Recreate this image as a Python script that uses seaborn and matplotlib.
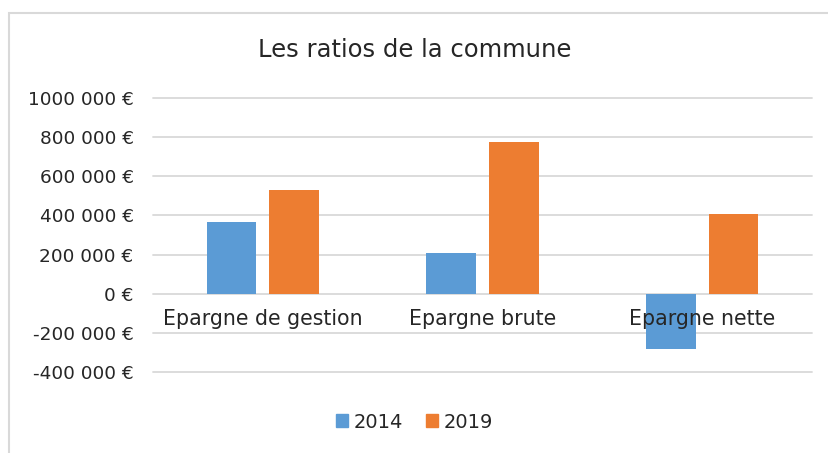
import numpy as np
import pandas as pd
import matplotlib
matplotlib.use('Agg')
import matplotlib.pyplot as plt
import seaborn as sns
from matplotlib.patches import Rectangle

# Data
categories = ['Epargne de gestion', 'Epargne brute', 'Epargne nette']
years = ['2014', '2019']
values_2014 = [368000, 207000, -285000]
values_2019 = [529000, 774000, 407000]
yticks = [-400000, -200000, 0, 200000, 400000, 600000, 800000, 1000000]
ytick_labels = ['-400 000 €', '-200 000 €', '0 €', '200 000 €', '400 000 €',
                '600 000 €', '800 000 €', '1000 000 €']
colors = ['#5B9BD5', '#ED7D31']

df = pd.DataFrame({
    'categorie': categories * 2,
    'annee': [years[0]] * 3 + [years[1]] * 3,
    'valeur': values_2014 + values_2019,
})

sns.set_style('white')
plt.rcParams['font.family'] = ['DejaVu Sans']
text_color = '#262626'

fig = plt.figure(figsize=(8.29, 4.53), dpi=100)
ax = fig.add_axes([153 / 829, 1 - 372 / 453, (812 - 153) / 829, (372 - 98) / 453])

sns.barplot(data=df, x='categorie', y='valeur', hue='annee', palette=colors,
            width=0.57, gap=0.21, saturation=1, linewidth=0, ax=ax, legend=False)

ax.set_ylim(-400000, 1000000)
ax.set_xlim(-0.5, 2.5)
ax.set_yticks(yticks)
ax.set_yticklabels(ytick_labels, fontsize=13.3, color=text_color)
ax.tick_params(axis='y', length=0, pad=14)
ax.grid(axis='y', color='#d9d9d9', linewidth=1.3)
for gl in ax.get_ygridlines():
    gl.set_clip_on(False)
ax.set_axisbelow(True)
ax.set_xticks([])
ax.set_xlabel('')
ax.set_ylabel('')
for s in ax.spines.values():
    s.set_visible(False)

# category labels sit just under the zero line, like Excel
for i, c in enumerate(categories):
    ax.annotate(c, xy=(i, 0), xytext=(0, -11), textcoords='offset points',
                ha='center', va='top', fontsize=14.8, color=text_color, zorder=5)

fig.text(0.5, 1 - 50 / 453, 'Les ratios de la commune', ha='center', va='center',
         fontsize=17.5, color=text_color)

# legend
handles = [Rectangle((0, 0), 1, 1, color=c) for c in colors]
fig.legend(handles, years, loc='center', bbox_to_anchor=(0.5, 1 - 422 / 453), ncol=2,
           frameon=False, fontsize=14, handlelength=0.6, handleheight=0.6,
           handletextpad=0.3, columnspacing=1.2, labelcolor=text_color)

# chart border (top and left edges visible, rest cut off)
fig.patches.append(Rectangle((9 / 829, -0.1), 1.2, 1.1 - 13 / 453, transform=fig.transFigure,
                             fill=False, edgecolor='#d9d9d9', linewidth=1.5))

fig.savefig('out.png', dpi=100)
